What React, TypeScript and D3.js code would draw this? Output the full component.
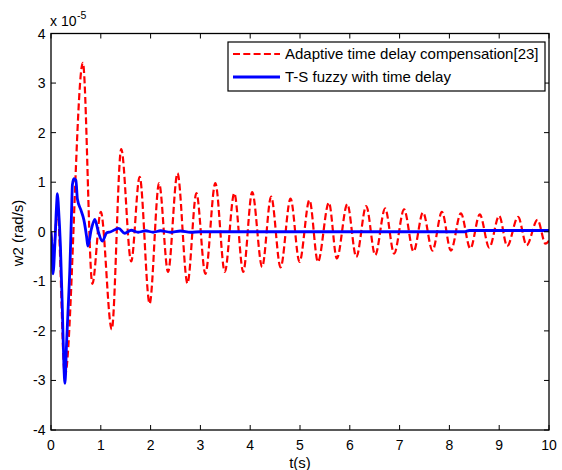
import React from "react";
import * as d3 from "d3";

// Adaptive time delay compensation[23] (red dashed) - extrema
const redT = [0, 0.05, 0.13, 0.28, 0.64, 0.83, 1.0, 1.22, 1.41, 1.61, 1.78, 1.98, 2.17, 2.35, 2.54, 2.74, 2.92, 3.1, 3.3, 3.49, 3.68, 3.86, 4.04, 4.24, 4.42, 4.61, 4.81, 4.99, 5.19, 5.36, 5.58, 5.74, 5.95, 6.13, 6.33, 6.51, 6.71, 6.89, 7.09, 7.28, 7.47, 7.66, 7.85, 8.03, 8.23, 8.42, 8.61, 8.8, 9.0, 9.16, 9.38, 9.55, 9.77, 9.93, 10];
const redY = [0, -0.4, 0.45, -2.9, 3.41, -1.05, 0.4, -1.97, 1.67, -0.6, 1.11, -1.45, 0.98, -0.81, 1.18, -1.04, 0.78, -0.85, 0.98, -0.81, 0.78, -0.81, 0.8, -0.71, 0.71, -0.72, 0.67, -0.61, 0.64, -0.61, 0.59, -0.54, 0.56, -0.51, 0.52, -0.47, 0.47, -0.44, 0.45, -0.4, 0.39, -0.38, 0.4, -0.38, 0.37, -0.34, 0.35, -0.32, 0.32, -0.29, 0.3, -0.27, 0.24, -0.24, -0.18];

// T-S fuzzy with time delay (blue solid)
const blueT = [0, 0.02, 0.04, 0.08, 0.11, 0.13, 0.15, 0.19, 0.23, 0.26, 0.28, 0.31, 0.34, 0.38, 0.41, 0.43, 0.46, 0.5, 0.53, 0.6, 0.66, 0.715, 0.74, 0.81, 0.88, 0.95, 1.03, 1.12, 1.2, 1.36, 1.48, 1.61, 1.75, 1.9, 2.05, 2.2, 2.4, 2.6, 2.8, 3.0, 8.3, 8.4, 10];
const blueY = [0, -0.3, -0.85, -0.2, 0.5, 0.77, 0.5, -0.3, -1.64, -2.73, -3.06, -2.32, -1.64, -0.7, 0.3, 0.95, 1.07, 1.04, 0.66, 0.44, 0.24, -0.1, -0.29, 0.05, 0.25, 0.0, -0.19, -0.02, 0.0, 0.07, -0.03, 0.03, -0.01, 0.02, -0.01, 0.02, -0.01, 0.015, -0.01, 0, 0, 0.025, 0.025];

const xTicks = [0, 1, 2, 3, 4, 5, 6, 7, 8, 9, 10];
const yTicks = [-4, -3, -2, -1, 0, 1, 2, 3, 4];
const legendLabels = ["Adaptive time delay compensation[23]", "T-S fuzzy with time delay"];
const xLabel = "t(s)";
const yLabel = "w2 (rad/s)";

const W = 562, H = 470;
const L = 51, R = 549, T = 33.5, B = 430;
const FONT = "Arial, 'Liberation Sans', sans-serif";

export default function App() {
  const x = d3.scaleLinear().domain([0, 10]).range([L, R]);
  const y = d3.scaleLinear().domain([-4, 4]).range([B, T]);
  const line = d3
    .line<[number, number]>()
    .x((d) => x(d[0]))
    .y((d) => y(d[1]))
    .curve(d3.curveMonotoneX);
  const redPath = line(redT.map((t, i) => [t, redY[i]] as [number, number])) || "";
  const bluePath = line(blueT.map((t, i) => [t, blueY[i]] as [number, number])) || "";
  const tk = 5;

  return (
    <div style={{ position: "fixed", left: 0, top: 0 }}>
      <svg width={W} height={H} style={{ display: "block", background: "#fff" }} fontFamily={FONT}>
        <rect x={0} y={0} width={W} height={H} fill="#fff" />
        <defs>
          <clipPath id="plotclip">
            <rect x={L} y={T} width={R - L} height={B - T} />
          </clipPath>
        </defs>
        <g clipPath="url(#plotclip)">
          <path d={redPath} fill="none" stroke="#ff0000" strokeWidth={2.2} strokeDasharray="7,3.3" />
          <path d={bluePath} fill="none" stroke="#0000ff" strokeWidth={2.8} />
        </g>
        {/* ticks */}
        {xTicks.map((t) => (
          <g key={"xt" + t}>
            <line x1={x(t)} x2={x(t)} y1={B} y2={B - tk} stroke="#000" strokeWidth={1} />
            <line x1={x(t)} x2={x(t)} y1={T} y2={T + tk} stroke="#000" strokeWidth={1} />
            <text x={x(t)} y={450} textAnchor="middle" fontSize={14} fill="#000">{t}</text>
          </g>
        ))}
        {yTicks.map((t) => (
          <g key={"yt" + t}>
            <line x1={L} x2={L + tk} y1={y(t)} y2={y(t)} stroke="#000" strokeWidth={1} />
            <line x1={R} x2={R - tk} y1={y(t)} y2={y(t)} stroke="#000" strokeWidth={1} />
            <text x={45.5} y={y(t)} dy="0.36em" textAnchor="end" fontSize={14} fill="#000">{t}</text>
          </g>
        ))}
        <rect x={L} y={T} width={R - L} height={B - T} fill="none" stroke="#000" strokeWidth={1.3} />
        {/* exponent */}
        <text x={50} y={26} fontSize={14} fill="#000">x 10</text>
        <text x={77} y={19} fontSize={10.5} fill="#000">-5</text>
        {/* axis labels */}
        <text x={(L + R) / 2} y={468} textAnchor="middle" fontSize={15} fill="#000">{xLabel}</text>
        <text transform={`translate(23,233) rotate(-90)`} textAnchor="middle" fontSize={15} fill="#000">{yLabel}</text>
        {/* legend */}
        <g>
          <rect x={228} y={42} width={317} height={49} fill="#fff" stroke="#000" strokeWidth={1.2} />
          <line x1={233} x2={280} y1={54} y2={54} stroke="#ff0000" strokeWidth={2.2} strokeDasharray="7,3.3" />
          <text x={285} y={54} dy="0.36em" fontSize={15} fill="#000">{legendLabels[0]}</text>
          <line x1={233} x2={280} y1={77} y2={77} stroke="#0000ff" strokeWidth={2.8} />
          <text x={285} y={77} dy="0.36em" fontSize={15} fill="#000">{legendLabels[1]}</text>
        </g>
      </svg>
    </div>
  );
}
